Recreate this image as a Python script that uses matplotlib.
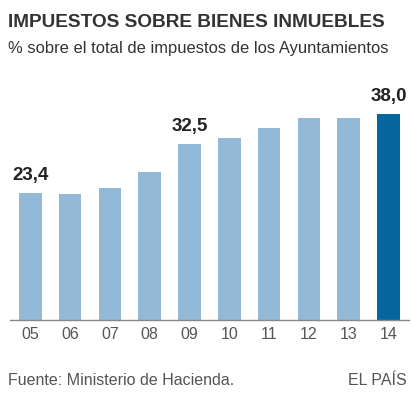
import matplotlib
matplotlib.use('Agg')
import matplotlib.pyplot as plt

plt.rcParams['font.family'] = ['Liberation Sans', 'DejaVu Sans']

years = ['05', '06', '07', '08', '09', '10', '11', '12', '13', '14']
values = [23.4, 23.3, 24.3, 27.3, 32.5, 33.5, 35.4, 37.2, 37.2, 38.0]
labelled = {0: '23,4', 4: '32,5', 9: '38,0'}

light = '#94b9d7'
dark = '#06679f'

fig = plt.figure(figsize=(4.14, 3.97), dpi=100)
ax = fig.add_axes([10/414, 0.194, 399/414, 0.5466])

colors = [light] * (len(values) - 1) + [dark]
x = range(len(values))
ax.bar(x, values, width=0.57, color=colors)

for i, txt in labelled.items():
    ax.text(i, values[i] + 1.6, txt, ha='center', va='bottom',
            fontsize=13.5, fontweight='bold', color='#222222')

ax.set_xlim(-0.51, 9.515)
ax.set_ylim(0, 40)
ax.set_yticks([])
ax.set_xticks(list(x))
ax.set_xticklabels(years, fontsize=11.5, color='#555555')
ax.tick_params(axis='x', length=0, pad=5)
for s in ['top', 'right', 'left']:
    ax.spines[s].set_visible(False)
ax.spines['bottom'].set_color('#888888')
ax.spines['bottom'].set_linewidth(1)

fig.text(8/414, 1 - 27/397, 'IMPUESTOS SOBRE BIENES INMUEBLES',
         fontsize=13.7, fontweight='bold', color='#333333', ha='left', va='baseline')
fig.text(8/414, 1 - 53/397, '% sobre el total de impuestos de los Ayuntamientos',
         fontsize=11.9, color='#333333', ha='left', va='baseline')
fig.text(8/414, 1 - 385/397, 'Fuente: Ministerio de Hacienda.',
         fontsize=11.5, color='#555555', ha='left', va='baseline')
fig.text(407/414, 1 - 385/397, 'EL PAÍS',
         fontsize=11.5, color='#555555', ha='right', va='baseline')

fig.savefig('out.png', dpi=100)
